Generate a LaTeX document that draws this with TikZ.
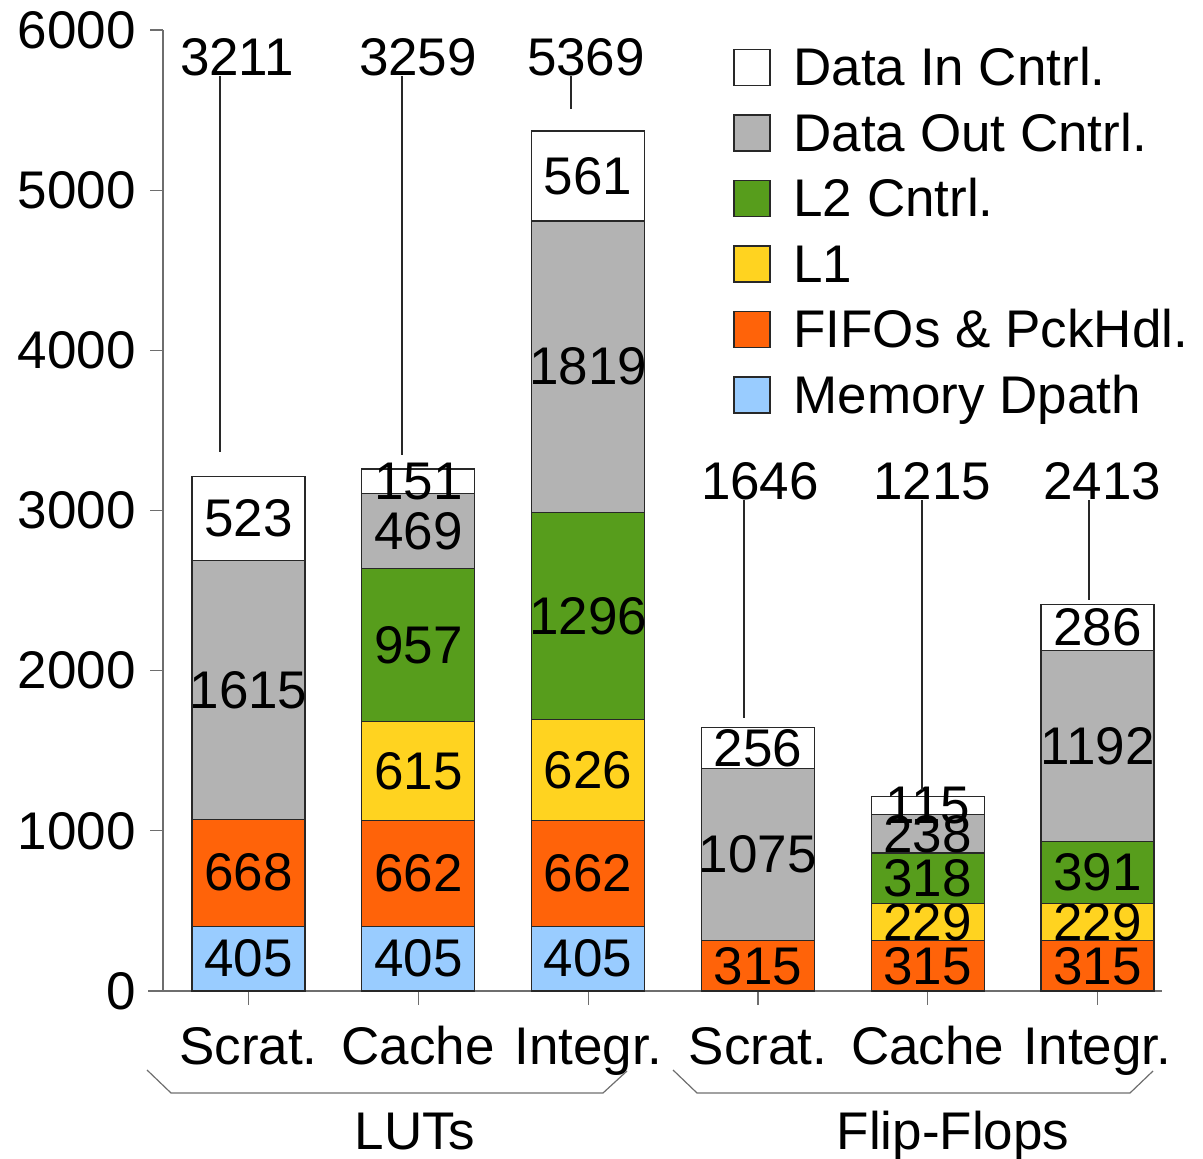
\documentclass[tikz,border=0pt]{standalone}
\usepackage{fontspec}
\setmainfont{Liberation Sans}
\usepackage{tikz}
\definecolor{chwhite}{RGB}{255,255,255}
\definecolor{chgray}{RGB}{179,179,179}
\definecolor{chgreen}{RGB}{87,157,28}
\definecolor{chyellow}{RGB}{255,211,32}
\definecolor{chorange}{RGB}{255,99,9}
\definecolor{chblue}{RGB}{153,204,255}
\definecolor{chaxis}{RGB}{110,110,110}
\definecolor{chline}{RGB}{40,40,40}

% one coloured piece of a stacked bar: name, centre x, low, high, colour, text
\newcommand{\barseg}[6]{%
  \draw[seg, fill=#5] ({#2-56.5},#3) rectangle ({#2+56.5},#4);
  \node[num] (#1) at (#2,{(#3+#4)/2}) {#6};}

\begin{document}
\begin{tikzpicture}[x=0.5pt, y=0.5pt, font=\fontsize{26.5}{30}\selectfont,
  seg/.style={draw=chline, line width=0.6pt},
  num/.style={inner sep=0pt, text=black},
  axis/.style={draw=chaxis, line width=0.6pt},
  lead/.style={draw=chline, line width=0.6pt}]
  \useasboundingbox (0,0) rectangle (1203,1159);
  % Axes
  \draw[axis] (163,168) -- (163,1129);
  \draw[axis] (148,168) -- (1162,168);
  \foreach \v in {0,1000,...,6000} {
    \draw[axis] (150,{168+\v*0.16017}) -- (163,{168+\v*0.16017});
    \node[num, anchor=east] (ytick\v) at (136,{168+\v*0.16017}) {\v};
  }
  \foreach \i/\cx/\txt in {1/248.5/Scrat., 2/418.3/Cache, 3/588.1/Integr.,
                           4/757.9/Scrat., 5/927.7/Cache, 6/1097.5/Integr.} {
    \draw[axis] (\cx,168) -- (\cx,154);
    \node[num, anchor=base] (cat\i) at (\cx,94) {\txt};
  }
  % Stacked bars
  \begin{scope}[shift={(0,168)}, y=0.080085pt]
    % LUTs
    \barseg{a1}{248.5}{0}{405}{chblue}{405}
    \barseg{a2}{248.5}{405}{1073}{chorange}{668}
    \barseg{a5}{248.5}{1073}{2688}{chgray}{1615}
    \barseg{a6}{248.5}{2688}{3211}{chwhite}{523}
    \barseg{b1}{418.3}{0}{405}{chblue}{405}
    \barseg{b2}{418.3}{405}{1067}{chorange}{662}
    \barseg{b3}{418.3}{1067}{1682}{chyellow}{615}
    \barseg{b4}{418.3}{1682}{2639}{chgreen}{957}
    \barseg{b5}{418.3}{2639}{3108}{chgray}{469}
    \barseg{b6}{418.3}{3108}{3259}{chwhite}{151}
    \barseg{c1}{588.1}{0}{405}{chblue}{405}
    \barseg{c2}{588.1}{405}{1067}{chorange}{662}
    \barseg{c3}{588.1}{1067}{1693}{chyellow}{626}
    \barseg{c4}{588.1}{1693}{2989}{chgreen}{1296}
    \barseg{c5}{588.1}{2989}{4808}{chgray}{1819}
    \barseg{c6}{588.1}{4808}{5369}{chwhite}{561}
    % Flip-Flops
    \barseg{d2}{757.9}{0}{315}{chorange}{315}
    \barseg{d5}{757.9}{315}{1390}{chgray}{1075}
    \barseg{d6}{757.9}{1390}{1646}{chwhite}{256}
    \barseg{e2}{927.7}{0}{315}{chorange}{315}
    \barseg{e3}{927.7}{315}{544}{chyellow}{229}
    \barseg{e4}{927.7}{544}{862}{chgreen}{318}
    \barseg{e5}{927.7}{862}{1100}{chgray}{238}
    \barseg{e6}{927.7}{1100}{1215}{chwhite}{115}
    \barseg{f2}{1097.5}{0}{315}{chorange}{315}
    \barseg{f3}{1097.5}{315}{544}{chyellow}{229}
    \barseg{f4}{1097.5}{544}{935}{chgreen}{391}
    \barseg{f5}{1097.5}{935}{2127}{chgray}{1192}
    \barseg{f6}{1097.5}{2127}{2413}{chwhite}{286}
  \end{scope}
  % Totals
  \node[num] (tot1) at (237,1102) {3211};
  \node[num] (tot2) at (418,1102) {3259};
  \node[num] (tot3) at (586,1102) {5369};
  \node[num] (tot4) at (760,678) {1646};
  \node[num] (tot5) at (932,678) {1215};
  \node[num] (tot6) at (1102,678) {2413};
  \coordinate (lead1) at (220,707);
  \coordinate (lead2) at (402,704);
  \coordinate (lead3) at (571,1050);
  \coordinate (lead4) at (744,441);
  \coordinate (lead5) at (922,369);
  \coordinate (lead6) at (1089,559);
  \foreach \i in {1,...,6}
    \draw[lead] (tot\i.south -| lead\i) -- (lead\i);
  % Groups
  \draw[axis] (147,89) -- (171,66) -- (603,66) -- (627,88);
  \draw[axis] (673,89) -- (697,66) -- (1130,66) -- (1153,88);
  \node[num, anchor=base] (luts) at (415,9) {LUTs};
  \node[num, anchor=base] (ffs) at (953,9) {Flip-Flops};
  % Legend
  \foreach \i/\col/\txt in {0/chwhite/Data In Cntrl., 1/chgray/Data Out Cntrl.,
                            2/chgreen/L2 Cntrl., 3/chyellow/L1,
                            4/chorange/FIFOs \& PckHdl., 5/chblue/Memory Dpath} {
    \draw[seg, fill=\col] (734,{1159-67.5-65.5*\i-18}) rectangle ++(36,36);
    \node[num, anchor=base west] (leg\i) at (793,{1159-67.5-65.5*\i-18.5}) {\txt};
  }
\end{tikzpicture}
\end{document}
